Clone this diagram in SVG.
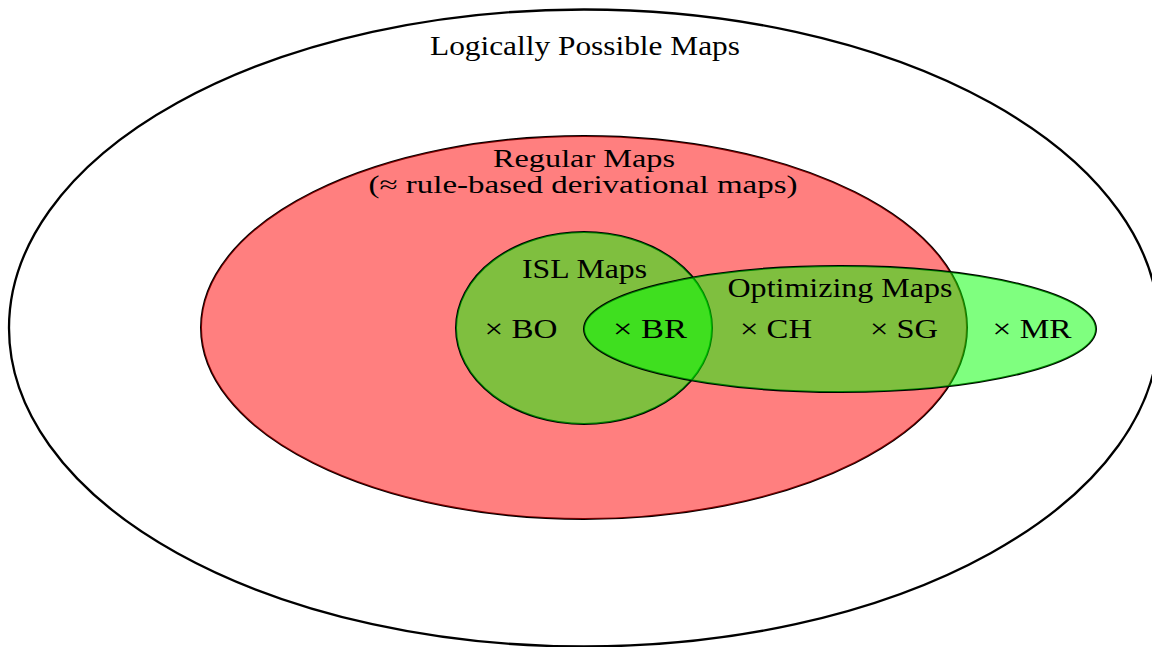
<svg xmlns="http://www.w3.org/2000/svg" width="1152" height="647" viewBox="0 0 1152 647">
  <style>
    .edge { fill: none; stroke: #000; stroke-width: 2; }
    .outer { stroke-width: 2.3; }
    .red { fill: #ff0000; fill-opacity: 0.5; stroke: none; }
    .green { fill: #00ff00; fill-opacity: 0.5; stroke: none; }
    text { font-family: "Liberation Serif", "DejaVu Serif", serif; font-size: 28px; fill: #000; text-anchor: middle; }
    .tight { font-size: 25px; }
  </style>
  <rect width="1152" height="647" fill="#ffffff"/>

  <!-- Logically possible maps -->
  <g id="logically-possible">
    <ellipse class="edge outer" cx="584" cy="328" rx="575" ry="318.5"/>
  </g>

  <!-- Regular maps -->
  <g id="regular">
    <ellipse class="edge" cx="584" cy="327.5" rx="383" ry="191.5"/>
    <ellipse class="red" cx="584" cy="327.5" rx="383" ry="191.5"/>
  </g>

  <!-- ISL maps -->
  <g id="isl">
    <ellipse class="edge" cx="584" cy="328" rx="128" ry="96"/>
    <ellipse class="green" cx="584" cy="328" rx="128" ry="96"/>
  </g>

  <!-- Optimizing maps -->
  <g id="optimizing">
    <ellipse class="edge" cx="840" cy="329" rx="256" ry="63"/>
    <ellipse class="green" cx="840" cy="329" rx="256" ry="63"/>
  </g>

  <!-- Set labels -->
  <g id="labels">
    <text x="585" y="55" textLength="310" lengthAdjust="spacingAndGlyphs">Logically Possible Maps</text>
    <text class="tight" x="584" y="167" textLength="182" lengthAdjust="spacingAndGlyphs">Regular Maps</text>
    <text class="tight" x="583" y="193" textLength="429" lengthAdjust="spacingAndGlyphs">(≈ rule-based derivational maps)</text>
    <text x="584.5" y="278" textLength="125" lengthAdjust="spacingAndGlyphs">ISL Maps</text>
    <text x="840" y="297" textLength="225" lengthAdjust="spacingAndGlyphs">Optimizing Maps</text>
  </g>

  <!-- Language points -->
  <g id="points">
    <text x="521" y="338" textLength="73" lengthAdjust="spacingAndGlyphs">× BO</text>
    <text x="650" y="338" textLength="74" lengthAdjust="spacingAndGlyphs">× BR</text>
    <text x="776" y="338" textLength="72" lengthAdjust="spacingAndGlyphs">× CH</text>
    <text x="904" y="338" textLength="68" lengthAdjust="spacingAndGlyphs">× SG</text>
    <text x="1032" y="338" textLength="79" lengthAdjust="spacingAndGlyphs">× MR</text>
  </g>
</svg>
